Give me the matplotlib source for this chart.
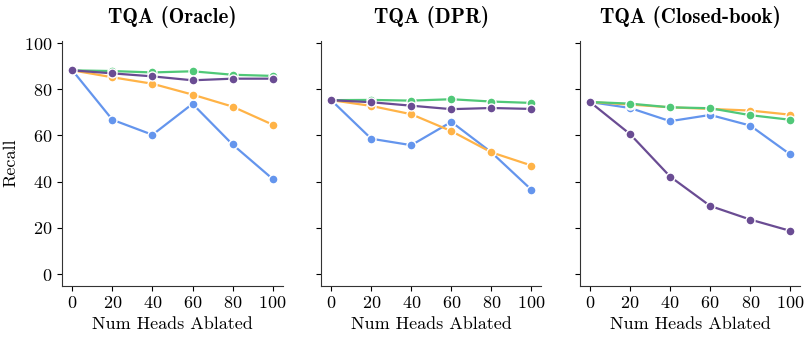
import matplotlib
matplotlib.use("Agg")
import matplotlib.pyplot as plt

heads = [0, 20, 40, 60, 80, 100]
titles = ["TQA (Oracle)", "TQA (DPR)", "TQA (Closed-book)"]

blue = [
    [88.2, 66.8, 60.3, 73.7, 56.1, 41.2],
    [75.3, 58.6, 55.8, 65.9, 52.7, 36.5],
    [74.5, 71.9, 66.2, 68.9, 64.3, 51.8],
]
orange = [
    [88.2, 85.2, 82.4, 77.7, 72.5, 64.7],
    [75.3, 72.8, 69.2, 61.9, 52.7, 47.0],
    [74.5, 73.4, 72.2, 71.5, 70.8, 69.0],
]
green = [
    [88.2, 87.9, 87.3, 87.8, 86.3, 85.8],
    [75.3, 75.4, 75.1, 75.7, 74.7, 74.1],
    [74.5, 73.8, 72.2, 71.8, 68.8, 66.8],
]
purple = [
    [88.2, 86.9, 85.6, 83.9, 84.6, 84.6],
    [75.3, 74.4, 72.9, 71.4, 71.9, 71.5],
    [74.5, 60.6, 42.2, 29.5, 23.6, 18.7],
]

colors = ["#6495ED", "#FFB347", "#50C878", "#6A4C93"]

plt.rcParams["font.family"] = "cmr10"
plt.rcParams["axes.formatter.use_mathtext"] = True
plt.rcParams["font.size"] = 13

fig, axes = plt.subplots(1, 3, figsize=(8.1, 3.4), dpi=100, sharey=True)
for i, ax in enumerate(axes):
    for series, c in zip([blue, orange, green, purple], colors):
        ax.plot(heads, series[i], color=c, lw=1.6, marker="o", ms=6.5,
                mec="white", mew=1.0)
    ax.set_title(titles[i], fontfamily="cmb10", fontsize=15, pad=13)
    ax.set_xlabel("Num Heads Ablated")
    ax.set_xticks(heads)
    ax.set_xlim(-5, 105)
    ax.set_ylim(-5, 101)
    ax.set_yticks([0, 20, 40, 60, 80, 100])
    ax.spines["top"].set_visible(False)
    ax.spines["right"].set_visible(False)
    ax.spines["left"].set_color("#333333")
    ax.spines["bottom"].set_color("#333333")
axes[0].set_ylabel("Recall")

fig.subplots_adjust(left=0.077, right=0.988, bottom=0.16, top=0.88, wspace=0.175)
fig.savefig("out.png")
